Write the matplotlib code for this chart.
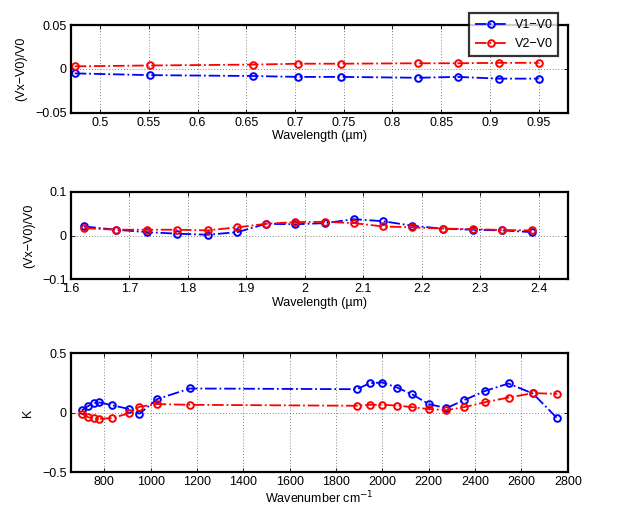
import numpy as np
import matplotlib
matplotlib.use("Agg")
import matplotlib.pyplot as plt

plt.rcParams["font.family"] = ["Liberation Sans", "DejaVu Sans"]
plt.rcParams["font.size"] = 9

# panel 1: visible wavelengths (um)
wl_vis = [0.474, 0.551, 0.657, 0.703, 0.747, 0.826, 0.867, 0.909, 0.950]
v1_vis = [-0.005, -0.007, -0.008, -0.009, -0.009, -0.010, -0.009, -0.011, -0.011]
v2_vis = [0.003, 0.004, 0.005, 0.006, 0.006, 0.0065, 0.0065, 0.007, 0.007]

# panel 2: near-IR wavelengths (um)
wl_nir = [1.623, 1.677, 1.730, 1.781, 1.834, 1.885, 1.934, 1.984,
          2.035, 2.084, 2.134, 2.184, 2.236, 2.287, 2.338, 2.388]
v1_nir = [0.021, 0.0135, 0.008, 0.0045, 0.002, 0.008, 0.027, 0.026,
          0.0286, 0.0376, 0.033, 0.0226, 0.016, 0.0135, 0.012, 0.008]
v2_nir = [0.017, 0.0135, 0.0135, 0.0135, 0.012, 0.019, 0.027, 0.031,
          0.0316, 0.0286, 0.021, 0.019, 0.016, 0.015, 0.0128, 0.012]

# panel 3: wavenumber (cm^-1)
wn = [703, 727, 753, 778, 832, 908, 951, 1028, 1169, 1890, 1945,
      2000, 2063, 2129, 2200, 2276, 2352, 2444, 2544, 2649, 2754]
k1 = [0.02, 0.053, 0.081, 0.087, 0.064, 0.031, -0.008, 0.115, 0.204, 0.198, 0.249,
      0.254, 0.212, 0.154, 0.073, 0.039, 0.106, 0.184, 0.246, 0.162, -0.045]
k2 = [-0.008, -0.036, -0.047, -0.05, -0.045, -0.003, 0.05, 0.073, 0.067, 0.059, 0.067,
      0.067, 0.061, 0.047, 0.031, 0.022, 0.047, 0.089, 0.128, 0.165, 0.159]

fig = plt.figure(figsize=(6.38, 5.11), dpi=100)
ax1 = fig.add_axes([0.111, 0.779, 0.779, 0.172])
ax2 = fig.add_axes([0.111, 0.4534, 0.779, 0.171])
ax3 = fig.add_axes([0.111, 0.0757, 0.779, 0.233])

style = dict(linestyle="-.", marker="o", markersize=4.8, markerfacecolor="none",
             markeredgewidth=1.4, linewidth=1.3)


def setup(ax, xlim, xticks, ylim, yticks, yticklabels):
    ax.set_xlim(*xlim)
    ax.set_ylim(*ylim)
    ax.set_xticks(xticks)
    ax.set_yticks(yticks)
    ax.set_yticklabels(yticklabels)
    ax.grid(True, linestyle=(0, (1, 2.5)), color="0.35", linewidth=0.6)
    ax.tick_params(direction="in", top=True, right=True, length=3, width=0.6, pad=3)
    for s in ax.spines.values():
        s.set_linewidth(1.6)


l1, = ax1.plot(wl_vis, v1_vis, color="blue", label="V1\u2212V0", **style)
l2, = ax1.plot(wl_vis, v2_vis, color="red", label="V2\u2212V0", **style)
setup(ax1, (0.47, 0.98), [0.5, 0.55, 0.6, 0.65, 0.7, 0.75, 0.8, 0.85, 0.9, 0.95],
      (-0.05, 0.05), [-0.05, 0, 0.05], ["\u22120.05", "0", "0.05"])
ax1.set_xticklabels(["0.5", "0.55", "0.6", "0.65", "0.7", "0.75", "0.8", "0.85", "0.9", "0.95"])
ax1.set_xlabel("Wavelength (\u00b5m)", labelpad=1)
ax1.set_ylabel("(Vx\u2212V0)/V0")
ax1.yaxis.set_label_coords(-0.087, 0.5)

ax2.plot(wl_nir, v1_nir, color="blue", **style)
ax2.plot(wl_nir, v2_nir, color="red", **style)
setup(ax2, (1.6, 2.45), [1.6, 1.7, 1.8, 1.9, 2.0, 2.1, 2.2, 2.3, 2.4],
      (-0.1, 0.1), [-0.1, 0, 0.1], ["\u22120.1", "0", "0.1"])
ax2.set_xticklabels(["1.6", "1.7", "1.8", "1.9", "2", "2.1", "2.2", "2.3", "2.4"])
ax2.set_xlabel("Wavelength (\u00b5m)", labelpad=1)
ax2.set_ylabel("(Vx\u2212V0)/V0")
ax2.yaxis.set_label_coords(-0.072, 0.5)

ax3.plot(wn, k1, color="blue", **style)
ax3.plot(wn, k2, color="red", **style)
setup(ax3, (655, 2800), list(range(800, 2801, 200)),
      (-0.5, 0.5), [-0.5, 0, 0.5], ["\u22120.5", "0", "0.5"])
ax3.set_xlabel("Wavenumber cm$^{-1}$", labelpad=1)
ax3.set_ylabel("K")
ax3.yaxis.set_label_coords(-0.075, 0.5)

leg = fig.legend(handles=[l1, l2], loc="upper left",
                 bbox_to_anchor=(0.735, 0.974), borderaxespad=0, frameon=True,
                 fancybox=False, handlelength=2.6, handletextpad=0.6,
                 borderpad=0.45, labelspacing=0.6)
leg.get_frame().set_edgecolor("black")
leg.get_frame().set_linewidth(1.6)

fig.savefig("out.png", dpi=100)
